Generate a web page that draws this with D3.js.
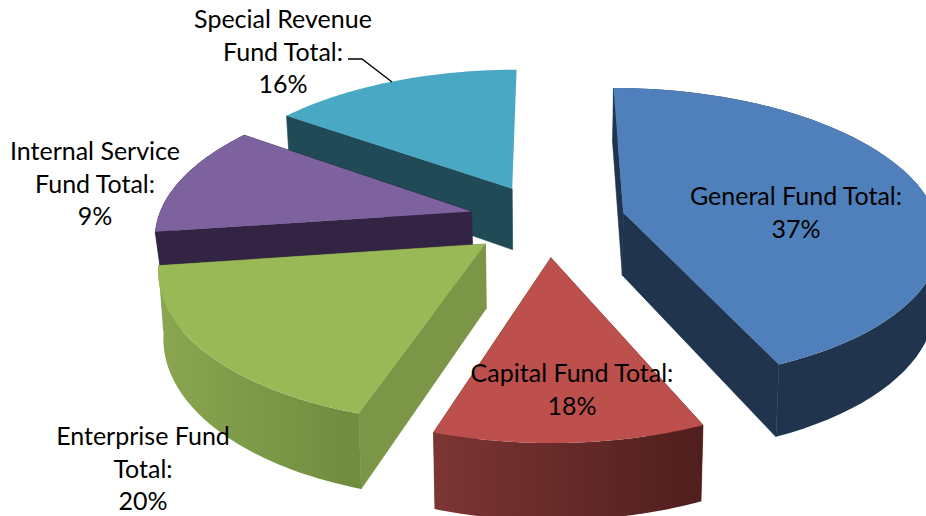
<!DOCTYPE html>
<html>
<head>
<meta charset="utf-8">
<script src="https://cdn.jsdelivr.net/npm/d3@7"></script>
<style>
    html, body { margin: 0; padding: 0; background: #fff; }
    svg { display: block; }
    text { font-family: Lato, "Open Sans", sans-serif; font-size: 25px; fill: #000; text-anchor: middle; }
</style>
</head>
<body>
<div id="chart"></div>
<script>
const funds = ["General Fund Total", "Capital Fund Total", "Enterprise Fund Total", "Internal Service Fund Total", "Special Revenue Fund Total"];
// the printed percentages
const percents = [37, 18, 20, 9, 16];
// degrees each slice really covers on the picture (3D view, they don't follow the percents)
const sweeps = [156.5, 41.5, 64, 43.5, 54.5];

const topColors = ["#4f80bb", "#bd4f4c", "#99b957", "#7e62a0", "#49a8c4"];
const sideColors = ["#20344e", "#6e2c2a", "#7a9646", "#342444", "#1f4a56"];
const wallStops = [["#20344e", "#20344e"], ["#7c3533", "#4f1f1e"], ["#8aa650", "#6f8c3f"], ["#342444", "#342444"], ["#1f4a56", "#1f4a56"]];

const width = 926, height = 516;
const cx = 547, cy = 220;       // where the unexploded centre lands
const radius = 314, tilt = 145.3, persp = 0.1487;
const explode = 0.25;
const depth = 63, depthShrink = 0.987;
const purpleDepth = 36;         // rest of it sits behind green and would poke out on the left
const purpleIndex = 3, tealIndex = 4;

const svg = d3.select("#chart").append("svg")
    .attr("width", width)
    .attr("height", height);
const defs = svg.append("defs");

const slices = d3.pie().sort(null).value(d => d)(sweeps);

// ground plane -> screen. h = how far down the slab (0 is the top face)
function project(x, y, h) {
    const f = 1 / (1 - persp * y);
    const sx = radius * x * f;
    const sy = tilt * y * f;
    if (h) return [cx + sx * depthShrink, cy + sy + h * f];
    return [cx + sx, cy + sy];
}

const line = d3.line();

function rimPoints(d, h) {
    const mid = (d.startAngle + d.endAngle) / 2;
    const ox = explode * Math.sin(mid), oy = -explode * Math.cos(mid);
    const steps = 60;
    return d3.range(steps + 1).map(i => {
        const a = d.startAngle + (d.endAngle - d.startAngle) * i / steps;
        return project(ox + Math.sin(a), oy - Math.cos(a), h);
    });
}

function apex(d, h) {
    const mid = (d.startAngle + d.endAngle) / 2;
    return project(explode * Math.sin(mid), -explode * Math.cos(mid), h);
}

// back to front
const order = [4, 3, 2, 0, 1];

order.forEach(i => {
    const d = slices[i];
    const h = i === purpleIndex ? purpleDepth : depth;
    const g = svg.append("g").attr("class", "slice");
    const rimTop = rimPoints(d, 0), rimLow = rimPoints(d, h);
    const a0 = apex(d, 0), a1 = apex(d, h);
    const last = rimTop.length - 1;

    const grad = defs.append("linearGradient").attr("id", "wall" + i);
    grad.append("stop").attr("offset", "0%").attr("stop-color", wallStops[i][0]);
    grad.append("stop").attr("offset", "100%").attr("stop-color", wallStops[i][1]);

    // flat cut faces (teal only shows its left one)
    const faces = [[rimTop[0], rimLow[0]]];
    if (i !== tealIndex) faces.push([rimTop[last], rimLow[last]]);
    faces.forEach(e => {
        g.append("path")
            .attr("d", line([a0, e[0], e[1], a1]) + "Z")
            .attr("fill", sideColors[i])
            .attr("stroke", sideColors[i])
            .attr("stroke-width", 0.6);
    });

    // curved outer wall, teal's is at the back
    if (i !== tealIndex) {
        g.append("path")
            .attr("d", line(rimTop.concat(rimLow.slice().reverse())) + "Z")
            .attr("fill", `url(#wall${i})`);
    }

    // top face
    g.append("path")
        .attr("d", line([a0].concat(rimTop)) + "Z")
        .attr("fill", topColors[i]);
});

// leader line for the Special Revenue label
svg.append("path")
    .attr("d", "M348,59 L362,59 L392,82")
    .attr("fill", "none")
    .attr("stroke", "#000")
    .attr("stroke-width", 1.3);

// label lines, same order as funds
const labelLines = [
    ["General Fund Total:"],
    ["Capital Fund Total:"],
    ["Enterprise Fund", "Total:"],
    ["Internal Service", "Fund Total:"],
    ["Special Revenue", "Fund Total:"]
];
const labelAt = [[796, 205], [572, 382], [143, 445], [95, 160], [283, 28]];

funds.forEach((name, i) => {
    const lines = labelLines[i].concat(percents[i] + "%");
    const t = svg.append("text").attr("aria-label", name);
    lines.forEach((s, j) => {
        t.append("tspan")
            .attr("x", labelAt[i][0])
            .attr("y", labelAt[i][1] + j * 32.7)
            .text(s);
    });
});
</script>
</body>
</html>
